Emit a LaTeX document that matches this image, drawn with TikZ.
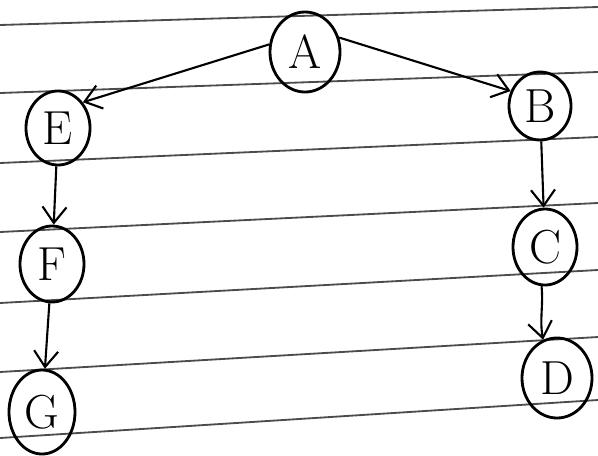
\documentclass[tikz,border=0pt]{standalone}
\usepackage{tikz}
\usetikzlibrary{arrows.meta,shapes.geometric}

\begin{document}
\begin{tikzpicture}[
    x=0.025cm, y=-0.025cm,
    letter/.style={draw, ellipse, line width=2pt, inner sep=0pt, minimum width=1.6cm, minimum height=1.85cm, font=\fontsize{34}{36}\selectfont},
    edge/.style={-{Straight Barb[length=4mm, width=6mm]}, line width=1.5pt},
    rule/.style={black!70, line width=1.3pt}
]
\useasboundingbox (0,0) rectangle (598,455);

% ruled paper
\foreach \ya/\yb in {25/7, 93/72, 163/137, 232/203, 303/270, 372/337, 438/400}
    \draw[rule] (0,\ya) -- (598,\yb);

\node[letter, minimum width=1.75cm, minimum height=2cm] (A) at (305,52) {A};
\node[letter] (E) at (58,128) {E};
\node[letter, minimum width=1.55cm, minimum height=1.7cm] (B) at (540,106) {B};
\node[letter, minimum height=1.9cm] (F) at (52,264) {F};
\node[letter, minimum height=1.9cm] (C) at (545,247) {C};
\node[letter, minimum width=1.65cm, minimum height=2.1cm] (G) at (42,412) {G};
\node[letter, minimum width=1.75cm, minimum height=2cm] (D) at (557,378) {D};

\draw[edge] (A.168) -- (E.46);
\draw[edge] (A.23) -- (B.153);
\draw[edge] (E) -- (F);
\draw[edge] (F) -- (G);
\draw[edge] (B) -- (C);
\draw[edge] (C.-95) to[out=-85, in=100] (D.110);
\end{tikzpicture}
\end{document}
